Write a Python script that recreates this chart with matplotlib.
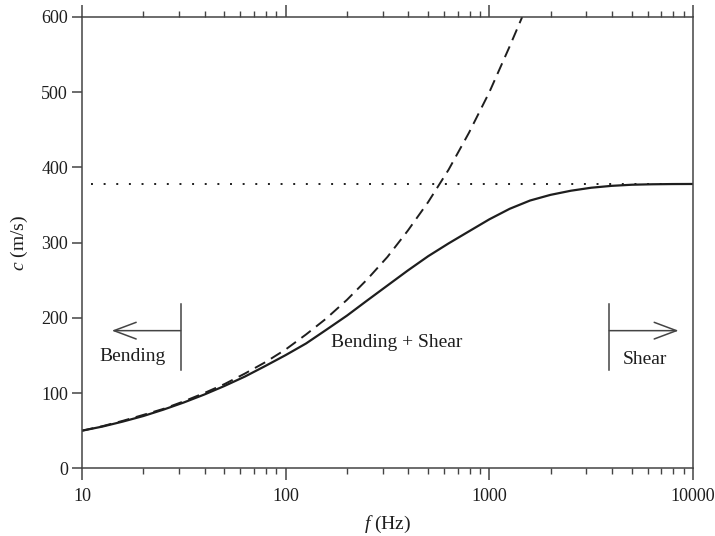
import matplotlib
matplotlib.use("Agg")
import matplotlib.pyplot as plt
from matplotlib.ticker import FixedLocator, NullFormatter, FixedFormatter

plt.rcParams['font.family'] = ['Liberation Serif', 'DejaVu Serif']
plt.rcParams['mathtext.fontset'] = 'custom'
plt.rcParams['mathtext.rm'] = 'Liberation Serif'
plt.rcParams['mathtext.it'] = 'Liberation Serif:italic'

# Bending + Shear (solid)
f_combined = [10, 12.6, 15.8, 20, 25.1, 31.6, 39.8, 50.1, 63.1, 79.4,
              100, 126, 158, 200, 251, 316, 398, 501, 631, 794,
              1000, 1259, 1585, 1995, 2512, 3162, 3981, 5012, 6310, 7943, 10000]
c_combined = [50, 55.5, 62, 69.5, 78, 87.5, 98, 109.5, 122, 136,
              150.5, 166, 184, 203, 223, 243, 263, 282, 299, 315,
              331, 345, 356, 363.5, 369, 373, 375.5, 377, 377.6, 377.9, 378]

# Pure bending (dashed)
f_bending = [10, 12.6, 15.8, 20, 25.1, 31.6, 39.8, 50.1, 63.1, 79.4,
             100, 126, 158, 200, 251, 316, 398, 501, 631, 794, 1000, 1259, 1450]
c_bending = [50, 56, 63, 71, 79, 89, 100, 112, 126, 141,
             158, 178, 199, 224, 251, 281, 316, 354, 397, 446, 500, 561, 600]

# Shear asymptote (dotted)
c_shear = 378

xticks = [10, 100, 1000, 10000]
xticklabels = ["10", "100", "1000", "10000"]
yticks = [0, 100, 200, 300, 400, 500, 600]

ink = '#1e1e1e'
axis_col = '#444444'

fig = plt.figure(figsize=(7.15, 5.36), dpi=100)
ax = fig.add_axes([0.1147, 0.1263, 0.8545, 0.842])

ax.plot(f_bending, c_bending, color=ink, lw=1.4, linestyle=(0, (6, 3.5)))
ax.plot(f_combined, c_combined, color=ink, lw=1.6)
ax.axhline(c_shear, xmin=0.014, xmax=1.0, color=ink, lw=1.4, linestyle=(0, (1, 5.5)))

ax.set_xscale('log')
ax.set_xlim(10, 10000)
ax.set_ylim(0, 600)

ax.xaxis.set_major_locator(FixedLocator(xticks))
ax.xaxis.set_major_formatter(FixedFormatter(xticklabels))
minors = [m * d for d in (10, 100, 1000) for m in range(2, 10)]
ax.xaxis.set_minor_locator(FixedLocator(minors))
ax.xaxis.set_minor_formatter(NullFormatter())
ax.set_yticks(yticks)

for s in ax.spines.values():
    s.set_color(axis_col)
    s.set_linewidth(1.1)

ax.tick_params(axis='x', which='both', direction='out', top=True, bottom=True,
               labeltop=False, colors=axis_col, labelcolor=ink, labelsize=13, pad=6)
ax.tick_params(axis='x', which='major', length=8.5, width=1.1)
ax.tick_params(axis='x', which='minor', length=4, width=1.0)
ax.tick_params(axis='y', which='major', direction='out', length=7, width=1.1,
               right=False, colors=axis_col, labelcolor=ink, labelsize=13, pad=3)

ax.set_xlabel(r'$f$ (Hz)', fontsize=14, color=ink, labelpad=6)
ax.set_ylabel(r'$c$ (m/s)', fontsize=14, color=ink, labelpad=8)

# Region annotations
arrow_props = dict(arrowstyle='->,head_length=1.6,head_width=0.6',
                   color=axis_col, lw=1.1, shrinkA=0, shrinkB=0)

ax.plot([30.5, 30.5], [131, 219], color=axis_col, lw=1.1)
ax.annotate('', xy=(14, 183), xytext=(30.5, 183), arrowprops=arrow_props)
ax.text(17.8, 148, 'Bending', fontsize=14, color=ink, ha='center', va='center')

ax.plot([3880, 3880], [131, 219], color=axis_col, lw=1.1)
ax.annotate('', xy=(8500, 183), xytext=(3880, 183), arrowprops=arrow_props)
ax.text(5800, 145, 'Shear', fontsize=14, color=ink, ha='center', va='center')

ax.text(352, 167, 'Bending + Shear', fontsize=14, color=ink, ha='center', va='center')

fig.savefig('out.png', dpi=100)
